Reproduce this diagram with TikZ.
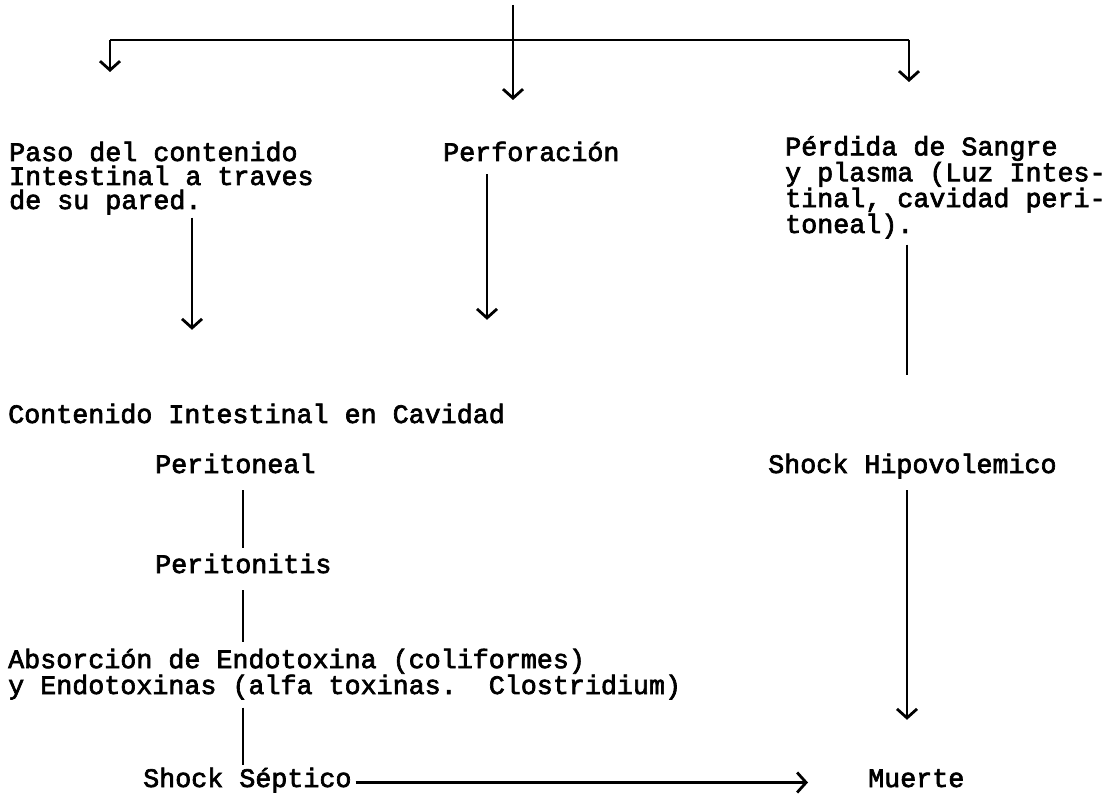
\documentclass[tikz,border=0pt]{standalone}
\usepackage{fontspec}
\setmonofont{Liberation Mono}[FakeBold=2.5]
\usetikzlibrary{arrows.meta}

\tikzset{
  txt/.style={font=\ttfamily\fontsize{26.7}{24}\selectfont, inner sep=0pt, anchor=base west},
  one/.style={txt, text height=13pt, text depth=4pt},
  multi/.style={txt, align=left},
  ln/.style={line width=2.8pt},
  arr/.style={ln, -{Straight Barb[length=9pt,width=20pt]}},
}

\begin{document}
\begin{tikzpicture}[x=1pt,y=-1pt]
    \useasboundingbox (0,0) rectangle (1113,794);

    % columns of the connectors
    \coordinate (cA) at (192,0);
    \coordinate (cB) at (487,0);
    \coordinate (cC) at (243,0);
    \coordinate (cR) at (907,0);

    % top branching
    \coordinate (src) at (513,5);
    \coordinate (jl) at (110,40);
    \coordinate (jr) at (909,40);
    \draw[ln, line width=2.2pt] (jl) -- (jr);
    \draw[arr] (src) -- ++(0,95);
    \draw[arr] (jl) -- ++(0,32);
    \draw[arr] (jr) -- ++(0,42);

    % texts (multi-line nodes sit on their last line)
    \node[multi] (paso) at (9,209) {Paso del contenido\\Intestinal a traves\\de su pared.};
    \node[one] (perf) at (443,161) {Perforación};
    \node[multi] (perd) at (785,233) {Pérdida de Sangre\\y plasma (Luz Intes-\\tinal, cavidad peri-\\toneal).};
    \node[one] (cont) at (8,423) {Contenido Intestinal en Cavidad};
    \node[one] (ptnl) at (155,473) {Peritoneal};
    \node[one] (hipo) at (768,473) {Shock Hipovolemico};
    \node[one] (ptts) at (155,573) {Peritonitis};
    \node[multi] (abso) at (8,694) {Absorción de Endotoxina (coliformes)\\y Endotoxinas (alfa toxinas.~~Clostridium)};
    \node[one] (sept) at (143,787) {Shock Séptico};
    \node[one] (muer) at (868,787) {Muerte};

    % left and middle branches
    \draw[arr, shorten <=3pt, shorten >=80pt] (paso.south -| cA) -- (cont.north -| cA);
    \draw[arr, shorten <=9pt, shorten >=90pt] (perf.south -| cB) -- (cont.north -| cB);
    \draw[ln, shorten <=13pt, shorten >=12pt] (ptnl.south -| cC) -- (ptts.north -| cC);
    \draw[ln, shorten <=13pt, shorten >=7pt] (ptts.south -| cC) -- (abso.north -| cC);
    \draw[ln, shorten <=8pt, shorten >=9pt] (abso.south -| cC) -- (sept.north -| cC);

    % right branch
    \draw[ln, shorten <=6pt, shorten >=85pt] (perd.south -| cR) -- (hipo.north -| cR);
    \draw[arr, shorten <=13pt, shorten >=54pt] (hipo.south -| cR) -- (muer.north -| cR);

    % to the end
    \draw[arr, shorten <=4pt, shorten >=60pt] (sept.east) -- (sept.east -| muer.west);
\end{tikzpicture}
\end{document}
